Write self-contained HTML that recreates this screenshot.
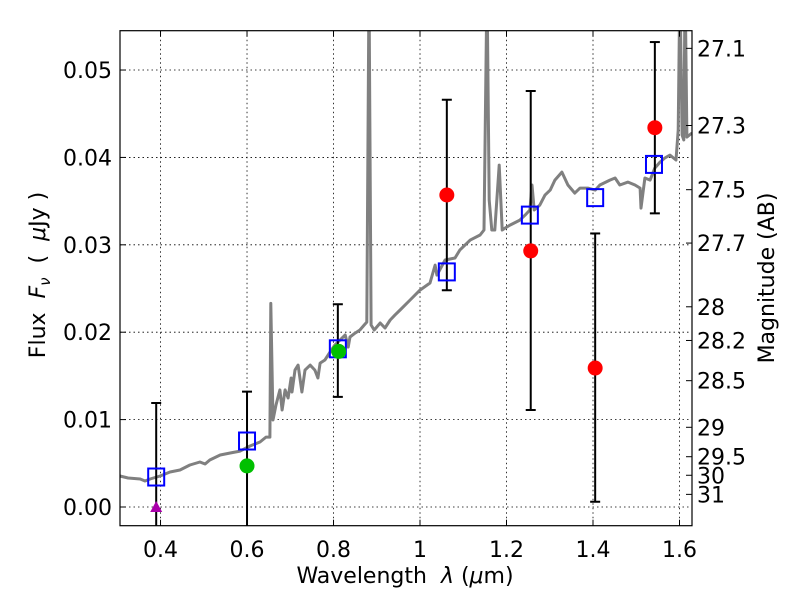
<!DOCTYPE html>
<html><head><meta charset="utf-8"><style>
body{margin:0;background:#fff;}
svg{display:block;font-family:"DejaVu Sans","Liberation Sans",sans-serif;}
</style></head><body>
<svg id="chart" width="800" height="600" viewBox="0 0 800 600" xmlns="http://www.w3.org/2000/svg">
<defs><clipPath id="clip"><rect x="120" y="30.5" width="572" height="495"/></clipPath></defs>
<rect width="800" height="600" fill="#fff"/>
<g id="grid"></g>
<g id="spec" clip-path="url(#clip)"></g>
<g id="marks" clip-path="url(#clip)"></g>
<g id="axes"></g>
<text x="405" y="583" font-size="22" text-anchor="middle" font-family="DejaVu Sans, sans-serif">Wavelength&#160;&#160;<tspan font-style="italic">λ</tspan> (<tspan font-style="italic">μ</tspan>m)</text>
<text transform="translate(45,275) rotate(-90)" font-size="22" text-anchor="middle" font-family="DejaVu Sans, sans-serif">Flux&#160;&#160;<tspan font-style="italic">F</tspan><tspan font-style="italic" font-size="15" dy="5">ν</tspan><tspan dy="-5">&#160;&#160;(&#160;&#160;</tspan><tspan font-style="italic">μ</tspan>Jy )</text>
<text transform="translate(774,278) rotate(-90)" font-size="22" text-anchor="middle" font-family="DejaVu Sans, sans-serif">Magnitude (AB)</text>
</svg>
<script>
const xTicks=[0.4,0.6,0.8,1.0,1.2,1.4,1.6];
const xTickLabels=["0.4","0.6","0.8","1","1.2","1.4","1.6"];
const yTicks=[0,0.01,0.02,0.03,0.04,0.05];
const yTickLabels=["0.00","0.01","0.02","0.03","0.04","0.05"];
const magTicks=[27.1,27.3,27.5,27.7,28,28.2,28.5,29,29.5,30,31];
const magTickLabels=["27.1","27.3","27.5","27.7","28","28.2","28.5","29","29.5","30","31"];
const specLam=[0.306,0.325,0.353,0.364,0.376,0.399,0.422,0.445,0.468,0.491,0.503,0.514,0.538,0.561,0.584,0.607,0.630,0.644,0.653,0.655,0.660,0.667,0.676,0.681,0.688,0.695,0.702,0.704,0.711,0.718,0.727,0.734,0.746,0.757,0.764,0.769,0.780,0.792,0.803,0.815,0.827,0.834,0.838,0.850,0.861,0.871,0.877,0.882,0.887,0.894,0.908,0.919,0.931,0.942,0.954,0.977,1.000,1.023,1.035,1.039,1.058,1.081,1.092,1.104,1.116,1.139,1.148,1.155,1.160,1.166,1.173,1.183,1.190,1.197,1.208,1.231,1.243,1.254,1.259,1.264,1.277,1.289,1.301,1.312,1.328,1.342,1.358,1.370,1.388,1.405,1.416,1.439,1.451,1.462,1.481,1.497,1.509,1.511,1.520,1.532,1.543,1.555,1.566,1.578,1.592,1.597,1.601,1.606,1.610,1.613,1.617,1.629];
const specFlux=[0.00355,0.00332,0.0032,0.00297,0.0032,0.00355,0.0040,0.00423,0.0048,0.00515,0.00492,0.00538,0.00595,0.00618,0.0064,0.00698,0.00744,0.0080,0.0080,0.0233,0.00995,0.01167,0.0134,0.0111,0.0134,0.01247,0.01476,0.01316,0.01567,0.01624,0.01316,0.01567,0.01624,0.01567,0.01476,0.01647,0.01682,0.01773,0.01853,0.0191,0.01968,0.0183,0.01945,0.0199,0.02025,0.02082,0.02116,0.060,0.02082,0.02025,0.02105,0.02048,0.0214,0.02196,0.02254,0.02368,0.02482,0.02563,0.02768,0.02654,0.02826,0.02849,0.0294,0.02997,0.03054,0.03112,0.03169,0.060,0.03512,0.03169,0.03169,0.03912,0.03169,0.03192,0.03226,0.03283,0.0334,0.03398,0.03684,0.03398,0.03455,0.03569,0.03626,0.03741,0.03832,0.03684,0.03592,0.03649,0.03649,0.03626,0.03684,0.03741,0.03764,0.03684,0.03718,0.03684,0.03649,0.0342,0.03764,0.03741,0.03878,0.03947,0.03993,0.04027,0.0397,0.04313,0.060,0.04256,0.04199,0.060,0.04233,0.04279];
const sqLam=[0.390,0.600,0.810,1.062,1.254,1.405,1.541];
const sqFlux=[0.00343,0.00755,0.0181,0.0269,0.0334,0.0354,0.0392];
const redLam=[1.062,1.256,1.405,1.543];
const redFlux=[0.0357,0.0293,0.0159,0.0434];
const greenLam=[0.600,0.812];
const greenFlux=[0.0047,0.0178];
const triLam=[0.390];
const triFlux=[0.0];
const errLam=[0.390,0.600,0.810,1.062,1.256,1.405,1.543];
const errLo=[-0.01,-0.01,0.0126,0.0248,0.0111,0.0006,0.0336];
const errHi=[0.0119,0.0132,0.0232,0.0466,0.0476,0.0313,0.0532];

const X0=120,X1=692,Y0=525.7,Y1=30.7;
const xmin=0.3063,xmax=1.6289,ymin=-0.00214,ymax=0.05450;
const sx=v=>X0+(v-xmin)/(xmax-xmin)*(X1-X0);
const sy=v=>Y0-(v-ymin)/(ymax-ymin)*(Y0-Y1);
const NS="http://www.w3.org/2000/svg";
function mk(tag,attrs,parent,text){const e=document.createElementNS(NS,tag);for(const k in attrs)e.setAttribute(k,attrs[k]);if(text!==undefined)e.textContent=text;parent.appendChild(e);return e;}
const grid=document.getElementById('grid'),spec=document.getElementById('spec'),marks=document.getElementById('marks'),axes=document.getElementById('axes');

xTicks.forEach(t=>{const l=mk('line',{x1:sx(t),x2:sx(t),y1:Y1,y2:Y0,stroke:'#000','stroke-width':0.8,'stroke-dasharray':'1.5,3'},grid);

});
yTicks.forEach(t=>{const l=mk('line',{x1:X0,x2:X1,y1:sy(t),y2:sy(t),stroke:'#000','stroke-width':0.8,'stroke-dasharray':'1.5,3'},grid);

});

const pts=specLam.map((l,i)=>sx(l).toFixed(1)+','+sy(specFlux[i]).toFixed(1)).join(' ');
const pl=mk('polyline',{points:pts,fill:'none',stroke:'#808080','stroke-width':3,'stroke-linejoin':'round'},spec);



errLam.forEach((l,i)=>{const x=sx(l),a=sy(errLo[i]),b=sy(errHi[i]);
const g=mk('g',{},marks);


mk('line',{x1:x,x2:x,y1:a,y2:b,stroke:'#000','stroke-width':2},g);
mk('line',{x1:x-5,x2:x+5,y1:a,y2:a,stroke:'#000','stroke-width':2},g);
mk('line',{x1:x-5,x2:x+5,y1:b,y2:b,stroke:'#000','stroke-width':2},g);});
sqLam.forEach((l,i)=>{const r=mk('rect',{x:sx(l)-8,y:sy(sqFlux[i])-8.5,width:16,height:17,fill:'none',stroke:'#0000ff','stroke-width':2},marks);

});
greenLam.forEach((l,i)=>{const c=mk('circle',{cx:sx(l),cy:sy(greenFlux[i]),r:7.5,fill:'#00c000'},marks);

});
redLam.forEach((l,i)=>{const c=mk('circle',{cx:sx(l),cy:sy(redFlux[i]),r:7.5,fill:'#ff0000'},marks);

});
triLam.forEach((l,i)=>{const x=sx(l),y=sy(triFlux[i]);const p=mk('polygon',{points:`${x-6},${y+5} ${x+6},${y+5} ${x},${y-6}`,fill:'#aa00aa'},marks);

});

const fr=mk('rect',{x:X0,y:Y1,width:X1-X0,height:Y0-Y1,fill:'none',stroke:'#000','stroke-width':1.2},axes);


xTicks.forEach((t,i)=>{const x=sx(t);
mk('line',{x1:x,x2:x,y1:Y0,y2:Y0-6,stroke:'#000'},axes);
mk('line',{x1:x,x2:x,y1:Y1,y2:Y1+6,stroke:'#000'},axes);
const tx=mk('text',{x:x,y:557,'font-size':22,'text-anchor':'middle'},axes,xTickLabels[i]);

});
yTicks.forEach((t,i)=>{const y=sy(t);
mk('line',{x1:X0,x2:X0+6,y1:y,y2:y,stroke:'#000'},axes);
const tx=mk('text',{x:112,y:y+8,'font-size':22,'text-anchor':'end'},axes,yTickLabels[i]);

});
magTicks.forEach((m,i)=>{const y=sy(Math.pow(10,(23.9-m)/2.5));
mk('line',{x1:X1,x2:X1-6,y1:y,y2:y,stroke:'#000'},axes);
const tx=mk('text',{x:697,y:y+8,'font-size':22},axes,magTickLabels[i]);

});
</script>
</body></html>
